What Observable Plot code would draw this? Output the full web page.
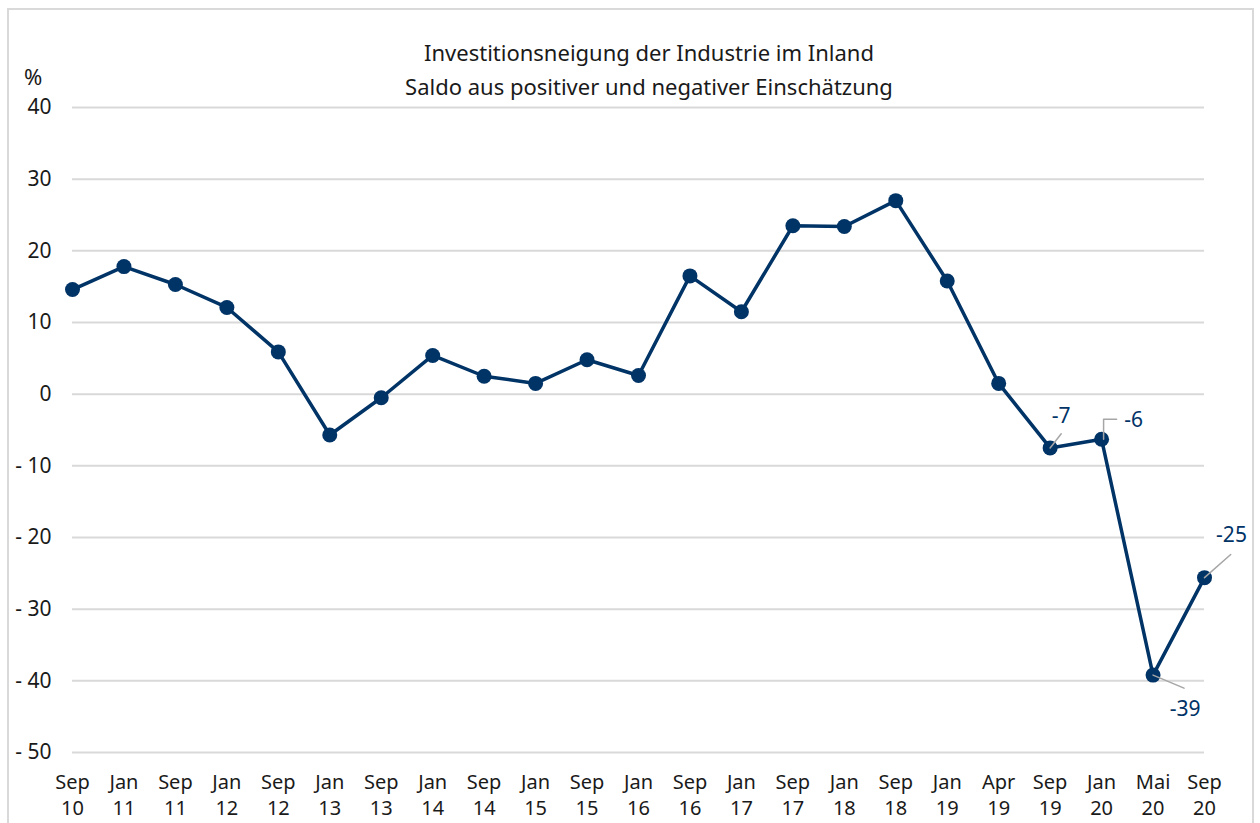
<!DOCTYPE html>
<html><head><meta charset="utf-8">
<script src="https://cdn.jsdelivr.net/npm/d3@7"></script>
<script src="https://cdn.jsdelivr.net/npm/@observablehq/plot@0.6"></script>
<style>
body{margin:0;background:#fff;font-family:"Noto Sans",sans-serif;}
#wrap{position:relative;width:1260px;height:823px;overflow:hidden;}
#frame{position:absolute;left:7px;top:8px;width:1247px;height:840px;border:2px solid #d9d9d9;box-sizing:border-box;}
#title{position:absolute;left:0;width:1298px;top:35px;text-align:center;font-size:22px;line-height:34px;color:#1a1a1a;}
#unit{position:absolute;left:24px;top:66px;font-size:22px;line-height:20px;color:#1a1a1a;}
#chart{position:absolute;left:0;top:0;}
</style>
</head><body>
<div id="wrap">
<div id="frame"></div>
<div id="chart"></div>
<div id="title">Investitionsneigung der Industrie im Inland<br>Saldo aus positiver und negativer Einschätzung</div>
<div id="unit">%</div>
</div>
<script>
const categories = ["Sep 10","Jan 11","Sep 11","Jan 12","Sep 12","Jan 13","Sep 13","Jan 14","Sep 14","Jan 15","Sep 15","Jan 16","Sep 16","Jan 17","Sep 17","Jan 18","Sep 18","Jan 19","Apr 19","Sep 19","Jan 20","Mai 20","Sep 20"];
const values = [14.6,17.8,15.3,12.1,5.9,-5.7,-0.5,5.4,2.5,1.5,4.8,2.6,16.5,11.5,23.5,23.4,27.0,15.8,1.5,-7.5,-6.3,-39.2,-25.6];
const yTicks = [40,30,20,10,0,-10,-20,-30,-40,-50];
const labelCats = ["Sep 19","Jan 20","Mai 20","Sep 20"];
const labelTexts = ["-7","-6","-39","-25"];

const data = categories.map((c,i)=>({cat:c, v:values[i]}));
const labels = labelCats.map((c,i)=>({cat:c, v:values[categories.indexOf(c)], t:labelTexts[i]}));
const byCat = c => labels.filter(d=>d.cat===c);

const blue = "#003366";
const grey = "#a6a6a6";
const line = {draw(ctx,l){ctx.moveTo(0,0);ctx.lineTo(0,-l);}};
const elbow = {draw(ctx,l){ctx.moveTo(0,0);ctx.lineTo(0,-l);ctx.lineTo(13,-l);}};

const plot = Plot.plot({
  width:1260, height:823,
  marginLeft:72, marginRight:56, marginTop:107, marginBottom:71,
  style:{fontFamily:'"Noto Sans",sans-serif', fontSize:"20px", color:"#1a1a1a", background:"transparent"},
  x:{type:"point", domain:categories, padding:0, round:false},
  y:{domain:[-50,40]},
  marks:[
    Plot.ruleY(yTicks,{stroke:"#d9d9d9", strokeWidth:2}),
    Plot.axisY(yTicks,{tickSize:0, tickPadding:21, label:null, tickFormat:d=> d<0 ? "- "+Math.abs(d) : String(d), fontSize:21}),
    Plot.axisX({tickSize:0, tickPadding:18, label:null, tickFormat:d=>d.replace(" ","\n"), lineHeight:1.3, fontSize:20}),
    Plot.line(data,{x:"cat", y:"v", stroke:blue, strokeWidth:3.5}),
    Plot.dot(data,{x:"cat", y:"v", r:7.5, fill:blue}),
    Plot.vector(byCat("Sep 19"),{x:"cat", y:"v", length:18, rotate:38, anchor:"start", shape:line, stroke:grey, strokeWidth:1.5}),
    Plot.vector(byCat("Jan 20"),{x:"cat", y:"v", length:20, rotate:0, anchor:"start", shape:elbow, stroke:grey, strokeWidth:1.5, dx:2, fill:"none"}),
    Plot.vector(byCat("Sep 20"),{x:"cat", y:"v", length:35, rotate:48.5, anchor:"start", shape:line, stroke:grey, strokeWidth:1.5}),
    Plot.vector(byCat("Mai 20"),{x:"cat", y:"v", length:33.6, rotate:112.8, anchor:"start", shape:line, stroke:grey, strokeWidth:1.5}),
    Plot.text(byCat("Sep 19"),{x:"cat", y:"v", text:"t", dx:11, dy:-32, fill:blue, fontSize:21}),
    Plot.text(byCat("Jan 20"),{x:"cat", y:"v", text:"t", dx:32, dy:-19, fill:blue, fontSize:21}),
    Plot.text(byCat("Sep 20"),{x:"cat", y:"v", text:"t", dx:27, dy:-42, fill:blue, fontSize:21}),
    Plot.text(byCat("Mai 20"),{x:"cat", y:"v", text:"t", dx:32, dy:34, fill:blue, fontSize:21})
  ]
});
document.getElementById("chart").appendChild(plot);
</script>
</body></html>
